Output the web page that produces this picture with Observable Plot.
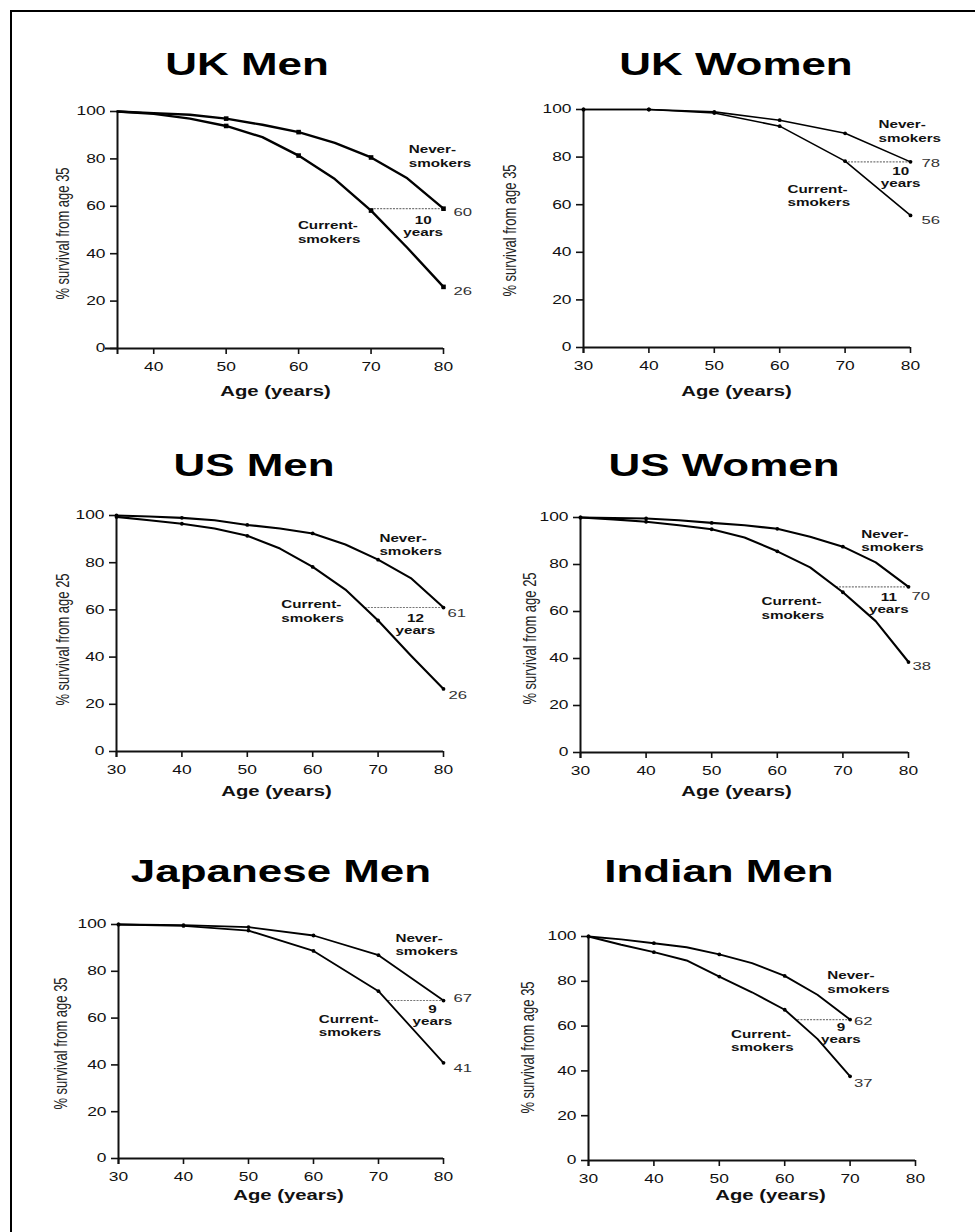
<!DOCTYPE html>
<html>
<head>
<meta charset="utf-8">
<script src="https://cdn.jsdelivr.net/npm/d3@7"></script>
<script src="https://cdn.jsdelivr.net/npm/@observablehq/plot@0.6"></script>
<style>
  body { margin: 0; background: #fff; }
  #page { position: relative; width: 975px; height: 1232px; background: #fff; overflow: hidden;
          font-family: "Liberation Sans", Arial, Helvetica, sans-serif; }
  .border-top { position: absolute; left: 10px; top: 10px; width: 965px; height: 2px; background: #000; }
  .border-left { position: absolute; left: 10px; top: 10px; width: 2px; height: 1222px; background: #000; }
  .title { position: absolute; width: 420px; text-align: center; font-weight: bold; font-size: 30.5px;
           line-height: 30px; color: #000; transform: scaleX(1.44); transform-origin: center; white-space: nowrap; }
  svg.panel { position: absolute; overflow: visible; }
</style>
</head>
<body>
<div id="page">
  <div class="border-top"></div>
  <div class="border-left"></div>
</div>
<script>
// ---------------- DATA ----------------
const panelTitles = ["UK Men", "UK Women", "US Men", "US Women", "Japanese Men", "Indian Men"];
const yLabels = ["% survival from age 35", "% survival from age 35", "% survival from age 25",
                 "% survival from age 25", "% survival from age 35", "% survival from age 35"];
const xLabel = "Age (years)";
const yTicks = [0, 20, 40, 60, 80, 100];
const xTicksUKMen = [40, 50, 60, 70, 80];
const xTicksStd = [30, 40, 50, 60, 70, 80];

const ukMenAges = [35, 40, 45, 50, 55, 60, 65, 70, 75, 80];
const ukMenNever = [100, 99.3, 98.6, 97, 94.4, 91.3, 86.8, 80.6, 71.8, 59];
const ukMenCurrent = [100, 99, 97, 93.9, 89.2, 81.4, 71.5, 58.2, 42.5, 26];

const ukWomenAges = [30, 40, 50, 60, 70, 80];
const ukWomenNever = [100, 100, 99, 95.5, 90, 78];
const ukWomenCurrent = [100, 100, 98.5, 93, 78.3, 55.5];

const usMenAges = [30, 35, 40, 45, 50, 55, 60, 65, 70, 75, 80];
const usMenNever = [100, 99.6, 99, 98, 96, 94.5, 92.4, 87.7, 81.3, 73.5, 61];
const usMenCurrent = [99.4, 98, 96.5, 94.5, 91.4, 86, 78.2, 68.6, 55.5, 40.7, 26.5];

const usWomenAges = [30, 35, 40, 45, 50, 55, 60, 65, 70, 75, 80];
const usWomenNever = [100, 99.8, 99.6, 98.8, 97.7, 96.7, 95.2, 91.8, 87.6, 80.9, 70.5];
const usWomenCurrent = [100, 99.2, 98.2, 96.7, 95, 91.5, 85.6, 78.8, 68.2, 55.9, 38.5];

const jpMenAges = [30, 40, 50, 60, 70, 80];
const jpMenNever = [100, 99.7, 98.9, 95.3, 86.9, 67.5];
const jpMenCurrent = [100, 99.4, 97.4, 88.7, 71.5, 40.9];

const inMenAges = [30, 35, 40, 45, 50, 55, 60, 65, 70];
const inMenNever = [100, 98.7, 97, 95.2, 92, 88.1, 82.4, 74, 62.9];
const inMenCurrent = [100, 96.3, 93, 89.3, 82.1, 75.1, 67.3, 54.3, 37.6];

// years-of-life gap: [from age, to age, survival level]
const gapFrom = [70, 70, 68, 69, 71.5, 62];
const gapTo = [80, 80, 80, 80, 80, 70];
const gapLevel = [59, 78, 61, 70.5, 67.5, 62.9];
const gapText = ["10\nyears", "10\nyears", "12\nyears", "11\nyears", "9\nyears", "9\nyears"];

const endNeverText = ["60", "78", "61", "70", "67", "62"];
const endCurrentText = ["26", "56", "26", "38", "41", "37"];

const neverLabel = "Never-\nsmokers";
const currentLabel = "Current-\nsmokers";

// ---------------- LAYOUT ----------------
const SX = 1.45; // horizontal stretch of the original picture
const layouts = [
  {left: 0,   x0: 117, x1: 443, yTop: 111, yBot: 348,  yl: [62, 233],   xl: [275, 391],  title: [247, 74],
   xmin: 35, xTicks: xTicksUKMen, sw: 2.4, square: true,
   endN: [10, 4], endC: [10, 4], nPos: [75.2, 81.4], cPos: [59.9, 49.4], gPos: [77.2, 51.7]},
  {left: 487, x0: 583, x1: 910, yTop: 109, yBot: 347,  yl: [509, 230],  xl: [736, 391],  title: [736, 74],
   xmin: 30, xTicks: xTicksStd, sw: 1.6,
   endN: [11, 1], endC: [11, 5], nPos: [75.1, 91], cPos: [61.2, 64], gPos: [78.5, 71.6]},
  {left: 0,   x0: 116, x1: 443, yTop: 515, yBot: 751,  yl: [62, 639],   xl: [276, 791],  title: [254, 475],
   xmin: 30, xTicks: xTicksStd, sw: 2.1,
   endN: [4, 6], endC: [5, 6.5], nPos: [70.2, 87.8], cPos: [55.2, 59.7], gPos: [75.7, 54.1]},
  {left: 487, x0: 580, x1: 908, yTop: 517, yBot: 752,  yl: [529, 638],  xl: [736, 791],  title: [724, 475],
   xmin: 30, xTicks: xTicksStd, sw: 2.1,
   endN: [3, 9], endC: [4, 4], nPos: [72.8, 90.4], cPos: [57.6, 61.6], gPos: [77, 63.7]},
  {left: 0,   x0: 118, x1: 443, yTop: 924, yBot: 1158, yl: [60, 1043],  xl: [288, 1195], title: [281, 881],
   xmin: 30, xTicks: xTicksStd, sw: 1.8,
   endN: [10, -2], endC: [10, 6], nPos: [72.6, 91.6], cPos: [60.8, 57], gPos: [78.3, 61.4]},
  {left: 487, x0: 588, x1: 915, yTop: 936, yBot: 1160, yl: [527, 1047], xl: [770, 1195], title: [719, 881],
   xmin: 30, xTicks: xTicksStd, sw: 1.9,
   endN: [4, 2], endC: [4, 7.5], nPos: [66.5, 79.8], cPos: [51.8, 53.8], gPos: [68.6, 56.9]}
];

const series = [
  [ukMenAges, ukMenNever, ukMenCurrent],
  [ukWomenAges, ukWomenNever, ukWomenCurrent],
  [usMenAges, usMenNever, usMenCurrent],
  [usWomenAges, usWomenNever, usWomenCurrent],
  [jpMenAges, jpMenNever, jpMenCurrent],
  [inMenAges, inMenNever, inMenCurrent]
];

const page = document.getElementById("page");
const FONT = "'Liberation Sans', Arial, Helvetica, sans-serif";

layouts.forEach((L, i) => {
  const [ages, never, current] = series[i];
  const rows = ages.flatMap((a, j) => [
    {age: a, value: never[j], series: "Never"},
    {age: a, value: current[j], series: "Current"}
  ]);
  const markers = rows.filter(d => d.age % 10 === 0);
  const last = ages.length - 1;
  const endN = [{age: ages[last], value: never[last], text: endNeverText[i]}];
  const endC = [{age: ages[last], value: current[last], text: endCurrentText[i]}];
  const gap = [{from: gapFrom[i], to: gapTo[i], level: gapLevel[i]}];

  const svgTop = L.yTop - 22;
  const height = (L.xl[1] + 16) - svgTop;
  const width = 487;
  const mL = L.x0 - L.left, mR = L.left + width - L.x1;
  const mT = L.yTop - svgTop, mB = svgTop + height - L.yBot;

  const svg = Plot.plot({
    width, height,
    marginLeft: mL, marginRight: mR, marginTop: mT, marginBottom: mB,
    style: {fontFamily: FONT, background: "transparent", color: "#111", overflow: "visible"},
    x: {domain: [L.xmin, 80]},
    y: {domain: [0, 100]},
    marks: [
      Plot.axisY(yTicks, {tickSize: 7, tickPadding: 5, fontSize: 12, label: null, strokeWidth: 1.6}),
      Plot.axisX(L.xTicks, {tickSize: 6, tickPadding: 8, fontSize: 12, label: null, strokeWidth: 1.6}),
      Plot.ruleX([L.xmin], {strokeWidth: 2, insetBottom: -6}),
      Plot.ruleY([0], {strokeWidth: 2, insetLeft: L.square ? -12 : 0}),
      Plot.ruleY(gap, {y: "level", x1: "from", x2: "to", stroke: "#777", strokeWidth: 1.1, strokeDasharray: "2,1.2"}),
      Plot.line(rows, {x: "age", y: "value", z: "series", stroke: "#000", strokeWidth: L.sw, strokeLinejoin: "round"}),
      L.square
        ? Plot.dot(markers.filter(d => d.age >= 50), {x: "age", y: "value", symbol: "square", r: 2.6, fill: "#000"})
        : Plot.dot(markers, {x: "age", y: "value", r: 1.9, fill: "#000"}),
      Plot.text(endN, {x: "age", y: "value", text: "text", dx: L.endN[0], dy: L.endN[1], textAnchor: "start", fontSize: 11.5, fill: "#333"}),
      Plot.text(endC, {x: "age", y: "value", text: "text", dx: L.endC[0], dy: L.endC[1], textAnchor: "start", fontSize: 11.5, fill: "#333"}),
      Plot.text([neverLabel], {x: L.nPos[0], y: L.nPos[1], text: d => d, textAnchor: "start", lineAnchor: "middle", fontWeight: "bold", fontSize: 10.5, lineHeight: 1.3, fill: "#111"}),
      Plot.text([currentLabel], {x: L.cPos[0], y: L.cPos[1], text: d => d, textAnchor: "start", lineAnchor: "middle", fontWeight: "bold", fontSize: 10.5, lineHeight: 1.3, fill: "#111"}),
      Plot.text([gapText[i]], {x: L.gPos[0], y: L.gPos[1], text: d => d, textAnchor: "middle", lineAnchor: "middle", fontWeight: "bold", fontSize: 10.5, lineHeight: 1.15, fill: "#111"}),
      Plot.text([yLabels[i]], {frameAnchor: "left", rotate: -90, textAnchor: "middle", lineAnchor: "middle", dx: L.yl[0] - L.x0, dy: L.yl[1] - (L.yTop + L.yBot) / 2, fontSize: 13, fill: "#222"}),
      Plot.text([xLabel], {frameAnchor: "bottom", textAnchor: "middle", dx: L.xl[0] - (L.x0 + L.x1) / 2, dy: L.xl[1] - L.yBot, lineAnchor: "middle", fontWeight: "bold", fontSize: 14, fill: "#111"})
    ]
  });

  // reproduce the horizontally stretched lettering of the original
  svg.querySelectorAll("text").forEach(t => {
    const tr = t.getAttribute("transform") || "";
    t.setAttribute("transform", tr + (tr.includes("rotate") ? ` scale(1,${SX})` : ` scale(${SX},1)`));
  });

  svg.classList.add("panel");
  svg.style.left = L.left + "px";
  svg.style.top = svgTop + "px";
  page.appendChild(svg);

  const title = document.createElement("div");
  title.className = "title";
  title.textContent = panelTitles[i];
  title.style.left = (L.title[0] - 210) + "px";
  title.style.top = (L.title[1] - 25) + "px";
  page.appendChild(title);
});
</script>
</body>
</html>
